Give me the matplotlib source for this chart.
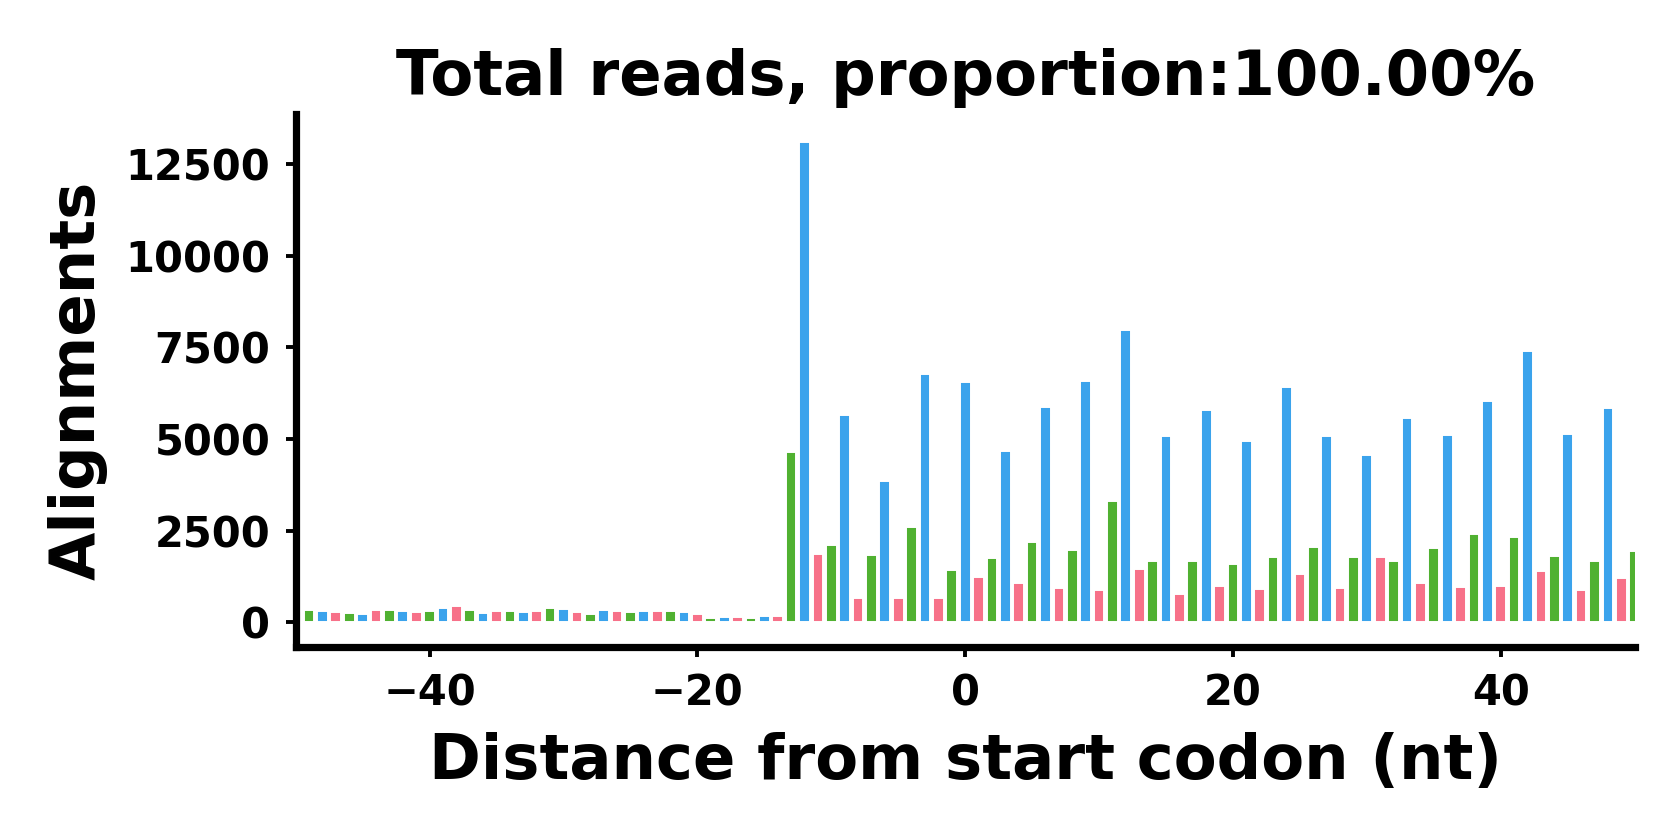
import numpy as np
import matplotlib
matplotlib.use("Agg")
import matplotlib.pyplot as plt

# Read counts per position relative to the start codon
positions = list(range(-50, 51))
counts = [
    300, 330, 290, 265, 255, 210, 330, 330, 300, 275,      # -50 .. -41
    310, 385, 435, 330, 245, 300, 300, 280, 290, 385,      # -40 .. -31
    355, 265, 230, 330, 290, 265, 300, 300, 300, 265,      # -30 .. -21
    210, 100, 135, 130, 110, 165, 155, 4645, 13115, 1850,  # -20 .. -11
    2110, 5645, 660, 1820, 3865, 660, 2600, 6775, 660, 1430,  # -10 .. -1
    6545, 1225, 1760, 4675, 1070, 2190, 5880, 925, 1965, 6575,  # 0 .. 9
    865, 3320, 7985, 1460, 1665, 5075, 760, 1665, 5790, 990,    # 10 .. 19
    1575, 4935, 900, 1775, 6410, 1320, 2050, 5090, 940, 1775,   # 20 .. 29
    4555, 1765, 1675, 5565, 1055, 2020, 5100, 965, 2405, 6045,  # 30 .. 39
    995, 2330, 7405, 1395, 1805, 5135, 885, 1660, 5855, 1200,   # 40 .. 49
    1940,                                                        # 50
]

# husl palette, one colour per reading frame
frame_colors = ["#f77189", "#50b131", "#3ba3ec"]
bar_colors = [frame_colors[(p + 50) % 3] for p in positions]

plt.rcParams["font.family"] = "DejaVu Sans"
plt.rcParams["font.weight"] = "bold"

fig = plt.figure(figsize=(8.4, 4.2), dpi=200)
ax = fig.add_axes([0.176, 0.230, 0.797, 0.634])

ax.bar(positions, counts, width=0.8, color=bar_colors, edgecolor="white", linewidth=0.7)

ax.set_xlim(-50, 50)
ax.set_ylim(-675, 13870)
ax.set_xticks([-40, -20, 0, 20, 40])
ax.set_yticks([0, 2500, 5000, 7500, 10000, 12500])

ax.set_title("Total reads, proportion:100.00%", fontsize=22.5, fontweight="bold", pad=7)
ax.set_xlabel("Distance from start codon (nt)", fontsize=22.5, fontweight="bold", labelpad=6.5)
ax.set_ylabel("Alignments", fontsize=22.5, fontweight="bold", labelpad=6.5)

ax.tick_params(axis="both", labelsize=15, length=3.6, width=1.4, pad=5.5)
for lab in ax.get_xticklabels() + ax.get_yticklabels():
    lab.set_fontweight("bold")

ax.spines["top"].set_visible(False)
ax.spines["right"].set_visible(False)
ax.spines["left"].set_linewidth(2.6)
ax.spines["bottom"].set_linewidth(2.6)

fig.savefig("out.png", dpi=200)
